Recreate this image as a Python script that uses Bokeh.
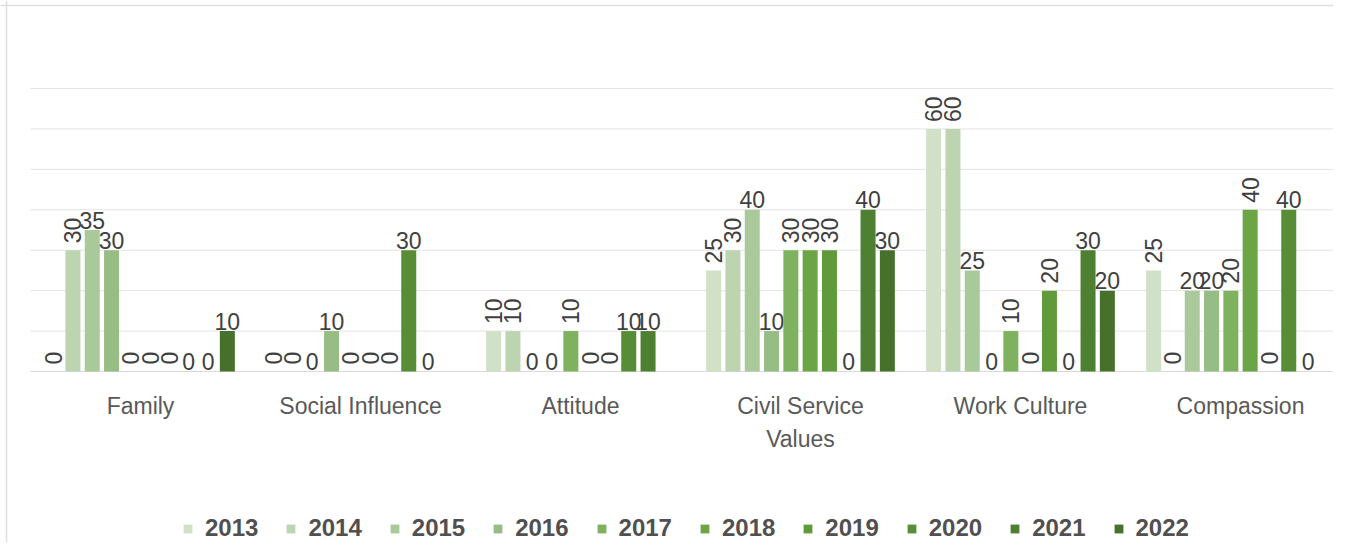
import math
from bokeh.plotting import figure
from bokeh.models import ColumnDataSource, Range1d, Legend, LegendItem, Span
from bokeh.embed import file_html
from bokeh.resources import INLINE
from bokeh.core.properties import value

categories = ["Family", "Social Influence", "Attitude", "Civil Service\nValues", "Work Culture", "Compassion"]
years = ["2013", "2014", "2015", "2016", "2017", "2018", "2019", "2020", "2021", "2022"]

v2013 = [0, 0, 10, 25, 60, 25]
v2014 = [30, 0, 10, 30, 60, 0]
v2015 = [35, 0, 0, 40, 25, 20]
v2016 = [30, 10, 0, 10, 0, 20]
v2017 = [0, 0, 10, 30, 10, 20]
v2018 = [0, 0, 0, 30, 0, 40]
v2019 = [0, 0, 0, 30, 20, 0]
v2020 = [0, 30, 10, 0, 0, 40]
v2021 = [0, 0, 10, 40, 30, 0]
v2022 = [10, None, None, 30, 20, None]
series = [v2013, v2014, v2015, v2016, v2017, v2018, v2019, v2020, v2021, v2022]
grid_ticks = [10, 20, 30, 40, 50, 60, 70]

colors = ["#d0e1c8", "#bcd5b0", "#a9c99a", "#98bd84", "#7fb25f", "#6ca545",
          "#609a3b", "#568d35", "#4e8031", "#46702b"]
rotated = [True, True, False, False, True, True, True, False, False, False]

# layout (pixels)
W, H = 1333, 542
plot_left_px = 30.0      # where first category starts
cat_px = 220.0           # width of one category
y0_px, y70_px = 371.0, 88.0
ppu = (y0_px - y70_px) / 70.0

x_start = -plot_left_px / cat_px
x_end = (W - plot_left_px) / cat_px
y_top = 70 + y70_px / ppu
y_bot = -(H - y0_px) / ppu

p = figure(width=W, height=H, output_backend="svg", toolbar_location=None,
           x_range=Range1d(x_start, x_end), y_range=Range1d(y_bot, y_top),
           min_border_left=0, min_border_right=0,
           min_border_top=0, min_border_bottom=0)
p.background_fill_color = "white"
p.border_fill_color = "white"
p.outline_line_color = None
p.xaxis.visible = False
p.yaxis.visible = False
p.xgrid.visible = False
p.ygrid.visible = False

n_cat = len(categories)
# horizontal gridlines over the category area
p.segment(x0=[0] * len(grid_ticks), x1=[n_cat] * len(grid_ticks),
          y0=grid_ticks, y1=grid_ticks, line_color="#e3e3e3", line_width=1)
# category (zero) axis line
p.segment(x0=[0], x1=[n_cat], y0=[0], y1=[0], line_color="#d9d9d9", line_width=1.2)

slot = 19.3 / cat_px
bar_w = 15.0 / cat_px

label_font = value("Liberation Sans")
items = []
for j, (yr, vals, col) in enumerate(zip(years, series, colors)):
    xs, tops, labs = [], [], []
    for i, v in enumerate(vals):
        if v is None:
            continue
        xs.append(i + 0.5 + (j - 4.5) * slot)
        tops.append(v)
        labs.append(str(v))
    src = ColumnDataSource(dict(x=xs, top=tops, label=labs))
    r = p.vbar(x="x", top="top", bottom=0, width=bar_w, source=src,
               fill_color=col, line_color=None)
    items.append(LegendItem(label=yr, renderers=[r]))
    if rotated[j]:
        p.text(x="x", y="top", text="label", source=src, angle=math.pi / 2,
               text_align="left", text_baseline="middle", y_offset=-7,
               text_font=label_font, text_font_size="23px", text_color="#404040")
    else:
        p.text(x="x", y="top", text="label", source=src,
               text_align="center", text_baseline="alphabetic", y_offset=-10,
               text_font=label_font, text_font_size="23px", text_color="#404040")

# category labels below the zero line
cat_src = ColumnDataSource(dict(x=[i + 0.5 for i in range(n_cat)],
                                y=[0] * n_cat, text=categories))
p.text(x="x", y="y", text="text", source=cat_src, text_align="center",
       text_baseline="top", y_offset=21, text_font=label_font,
       text_font_size="23px", text_color="#595959", text_line_height=1.3)

# chart-area border (top & left edges visible in the reference)
p.add_layout(Span(location=x_start + 6 / cat_px, dimension="height",
                  line_color="#dedede", line_width=1.5))
p.add_layout(Span(location=y_top - 5 / ppu, dimension="width",
                  line_color="#dedede", line_width=1.5))

legend = Legend(items=items, orientation="horizontal", location=(182, 0),
                padding=0, spacing=27, label_standoff=12,
                glyph_width=11, glyph_height=11, label_height=16,
                border_line_color=None, background_fill_alpha=0,
                label_text_font="Liberation Sans", label_text_font_style="bold",
                label_text_font_size="24px", label_text_color="#505050")
p.add_layout(legend, "center")

open("out.html", "w").write(file_html(p, INLINE))
